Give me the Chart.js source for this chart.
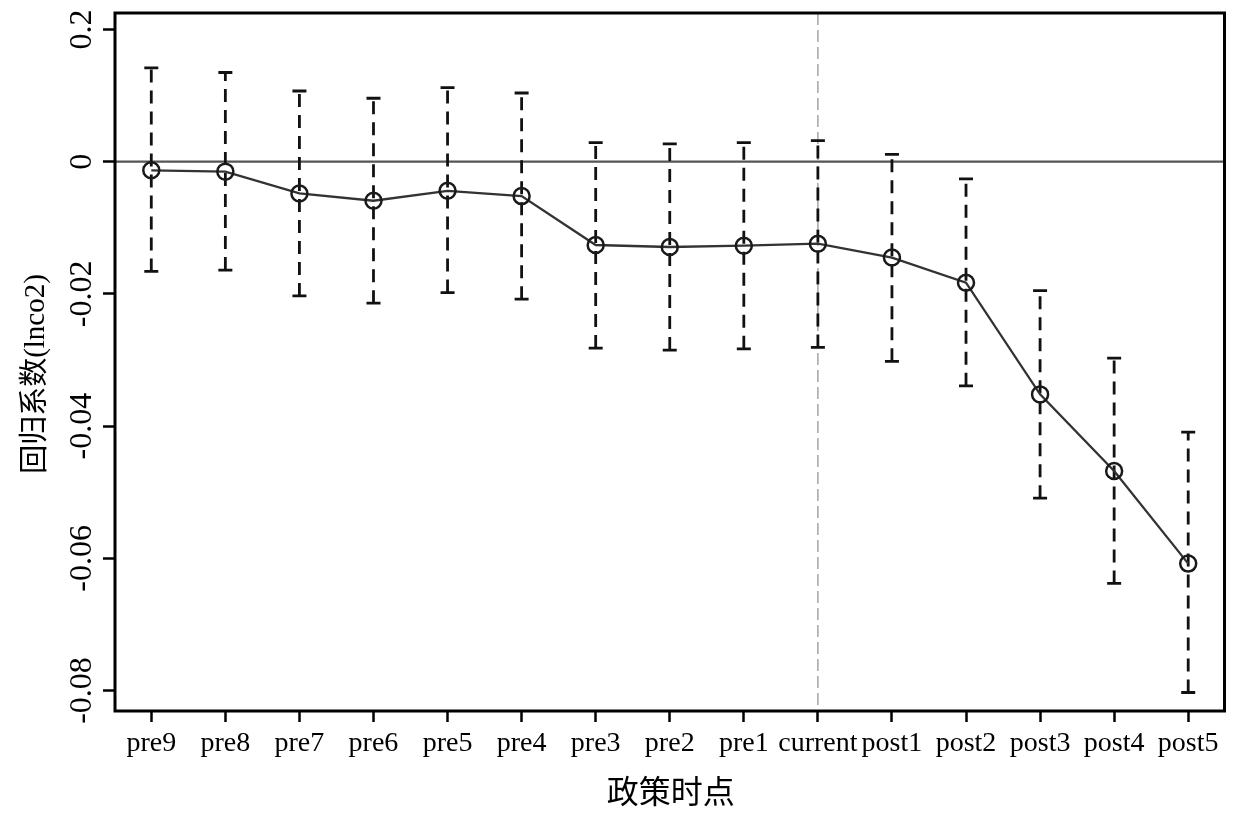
<!DOCTYPE html>
<html>
<head>
<meta charset="utf-8">
<script src="https://cdn.jsdelivr.net/npm/chart.js@4/dist/chart.umd.min.js"></script>
<style>
  html, body { margin: 0; padding: 0; background: #fff; }
</style>
</head>
<body>
<div style="width:1235px;height:816px">
  <canvas id="chart" width="1235" height="816"></canvas>
</div>
<script>
const periods = ["pre9", "pre8", "pre7", "pre6", "pre5", "pre4", "pre3", "pre2", "pre1",
  "current", "post1", "post2", "post3", "post4", "post5"];
const coef = [-0.0013, -0.0015, -0.0048, -0.0059, -0.0044, -0.0052, -0.0126, -0.0129, -0.0127,
  -0.0124, -0.0145, -0.0183, -0.0352, -0.0468, -0.0608];
const upper = [0.0142, 0.0135, 0.0107, 0.0096, 0.0112, 0.0104, 0.0029, 0.0027, 0.0029,
  0.0032, 0.0011, -0.0026, -0.0195, -0.0297, -0.0409];
const lower = [-0.0166, -0.0164, -0.0203, -0.0214, -0.0198, -0.0208, -0.0282, -0.0285, -0.0283,
  -0.0281, -0.0302, -0.0339, -0.0509, -0.0638, -0.0803];
const yTickValues = [0.02, 0, -0.02, -0.04, -0.06, -0.08];
const yTickLabels = ["0.2", "0", "-0.02", "-0.04", "-0.06", "-0.08"];
const xTitle = "政策时点";
const yTitle = "回归系数(lnco2)";
const eventIndex = periods.indexOf("current");

const serif = '"Liberation Serif", "Noto Sans CJK SC", serif';

// one dashed dataset per confidence interval, caps drawn as 'line' points
const errorBars = periods.map((p, i) => ({
  data: [{ x: i, y: lower[i] }, { x: i, y: upper[i] }],
  borderColor: "#111",
  borderWidth: 2.8,
  borderDash: [13, 8],
  pointStyle: "line",
  pointRadius: 7,
  pointBorderWidth: 2.8,
  pointBorderColor: "#111",
  order: 2,
}));

const frameAndText = {
  id: "frameAndText",
  beforeDatasetsDraw(chart) {
    const { ctx, chartArea: a, scales } = chart;
    ctx.save();
    // zero line
    const y0 = scales.y.getPixelForValue(0);
    ctx.strokeStyle = "#555";
    ctx.lineWidth = 2.2;
    ctx.beginPath();
    ctx.moveTo(a.left, y0);
    ctx.lineTo(a.right, y0);
    ctx.stroke();
    // policy line
    const xe = scales.x.getPixelForValue(eventIndex);
    ctx.strokeStyle = "#aaa";
    ctx.lineWidth = 1.6;
    ctx.setLineDash([12, 5]);
    ctx.beginPath();
    ctx.moveTo(xe, a.top);
    ctx.lineTo(xe, a.bottom);
    ctx.stroke();
    ctx.restore();
  },
  afterDraw(chart) {
    const { ctx, chartArea: a, scales } = chart;
    ctx.save();
    ctx.strokeStyle = "#000";
    ctx.lineWidth = 3;
    ctx.strokeRect(a.left, a.top, a.right - a.left, a.bottom - a.top);

    ctx.fillStyle = "#000";
    ctx.textAlign = "center";
    ctx.textBaseline = "middle";
    // rotated y tick labels
    ctx.font = "32px " + serif;
    yTickValues.forEach((v, i) => {
      ctx.save();
      ctx.translate(83, scales.y.getPixelForValue(v));
      ctx.rotate(-Math.PI / 2);
      ctx.fillText(yTickLabels[i], 0, 0);
      ctx.restore();
    });
    // y title
    ctx.font = "29px " + serif;
    ctx.save();
    ctx.translate(36, 374);
    ctx.rotate(-Math.PI / 2);
    ctx.fillText(yTitle, 0, 0);
    ctx.restore();
    // x title
    ctx.font = "32px " + serif;
    ctx.fillText(xTitle, (a.left + a.right) / 2 + 1, 795);
    ctx.restore();
  },
};

new Chart(document.getElementById("chart"), {
  type: "line",
  data: {
    datasets: [
      {
        data: coef.map((v, i) => ({ x: i, y: v })),
        borderColor: "#333",
        borderWidth: 2.3,
        pointStyle: "circle",
        pointRadius: 8,
        pointBorderWidth: 2.5,
        pointBorderColor: "#1a1a1a",
        pointBackgroundColor: "rgba(0,0,0,0)",
        order: 0,
      },
      ...errorBars,
    ],
  },
  options: {
    responsive: false,
    animation: false,
    layout: { padding: { top: 13, right: 7, left: 0, bottom: 0 } },
    plugins: { legend: { display: false }, tooltip: { enabled: false } },
    scales: {
      x: {
        type: "linear",
        min: -0.49,
        max: 14.49,
        afterBuildTicks: (s) => { s.ticks = periods.map((p, i) => ({ value: i })); },
        afterFit: (s) => { s.height = 105; },
        border: { display: false },
        grid: { drawOnChartArea: false, tickLength: 11, tickColor: "#000", tickWidth: 2.5 },
        ticks: {
          autoSkip: false,
          maxRotation: 0,
          padding: 5,
          color: "#000",
          font: { family: serif, size: 28 },
          callback: (v) => periods[v],
        },
      },
      y: {
        min: -0.0831,
        max: 0.0225,
        afterBuildTicks: (s) => { s.ticks = yTickValues.map((v) => ({ value: v })); },
        afterFit: (s) => { s.width = 115; },
        border: { display: false },
        grid: { drawOnChartArea: false, tickLength: 12, tickColor: "#000", tickWidth: 2.5 },
        ticks: { callback: () => "" },
      },
    },
  },
  plugins: [frameAndText],
});
</script>
</body>
</html>
